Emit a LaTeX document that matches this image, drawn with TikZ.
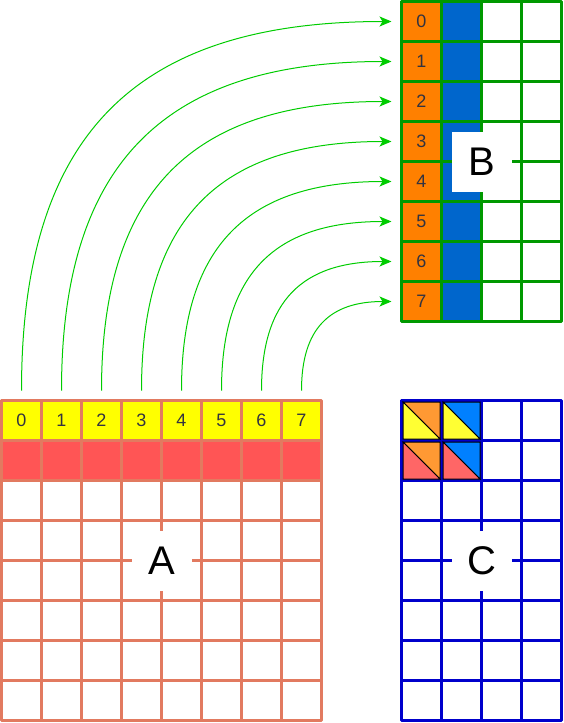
\documentclass[tikz,border=0pt]{standalone}
\usepackage{fontspec}
\setmainfont{Liberation Sans}
\usetikzlibrary{arrows.meta}
\definecolor{lineA}{RGB}{226,122,96}
\definecolor{lineB}{RGB}{0,153,0}
\definecolor{lineC}{RGB}{0,0,204}
\definecolor{yellowA}{RGB}{255,255,0}
\definecolor{redA}{RGB}{255,85,85}
\definecolor{orangeB}{RGB}{255,128,0}
\definecolor{blueB}{RGB}{0,102,204}
\definecolor{orangeC}{RGB}{255,153,51}
\definecolor{yellowC}{RGB}{255,255,51}
\definecolor{blueC}{RGB}{0,128,255}
\definecolor{redC}{RGB}{255,102,102}
\definecolor{arrowG}{RGB}{0,204,0}
\definecolor{numgray}{RGB}{51,51,64}
\tikzset{
  cell/.style={line width=3pt, minimum size=40pt, inner sep=0pt, outer sep=0pt, fill=white,
    text=numgray, font=\fontsize{18}{18}\selectfont},
  cellA/.style={cell, draw=lineA},
  cellB/.style={cell, draw=lineB},
  cellC/.style={cell, draw=lineC},
  labelbox/.style={fill=white, minimum size=60pt, inner sep=0pt, font=\fontsize{40}{40}\selectfont},
  tri/.style={draw=black, line width=1pt, line join=miter},
}
\begin{document}
\begin{tikzpicture}[x=1pt, y=-1pt, line join=round, >={Stealth[length=12pt,width=10pt,inset=3pt]}]
	\useasboundingbox (0,0) rectangle (563,723);
	% matrix A
	\foreach \i in {0,...,7} {
		\node[cellA, fill=yellowA] (a\i) at (21.5+40*\i,420.5) {\i};
		\node[cellA, fill=redA] (ar\i) at (21.5+40*\i,460.5) {};
		\foreach \j in {2,...,7}
			\node[cellA] (A\i\j) at (21.5+40*\i,420.5+40*\j) {};
	}
	\node[labelbox] (A) at (161.5,560.5) {A};
	% matrix B
	\foreach \j in {0,...,7} {
		\node[cellB, fill=orangeB] (b\j) at (421.5,21.5+40*\j) {\j};
		\node[cellB, fill=blueB] (bb\j) at (461.5,21.5+40*\j) {};
		\foreach \i in {2,3}
			\node[cellB] (B\i\j) at (421.5+40*\i,21.5+40*\j) {};
	}
	\node[labelbox] (B) at (481.5,161.5) {B};
	% matrix C
	\foreach \i in {0,...,3} \foreach \j in {0,...,7}
		\node[cellC] (C\i\j) at (421.5+40*\i,420.5+40*\j) {};
	\foreach \i/\up in {0/orangeC,1/blueC} \foreach \j/\lo in {0/yellowC,1/redC} {
		\filldraw[tri, fill=\up] ([shift={(-18.5,-18.5)}]C\i\j.center) -- ([shift={(18.5,-18.5)}]C\i\j.center)
			-- ([shift={(18.5,18.5)}]C\i\j.center) -- cycle;
		\filldraw[tri, fill=\lo] ([shift={(-18.5,-18.5)}]C\i\j.center) -- ([shift={(-18.5,18.5)}]C\i\j.center)
			-- ([shift={(18.5,18.5)}]C\i\j.center) -- cycle;
	}
	\node[labelbox] (C) at (481.5,560.5) {C};
	% rows of A go to columns of B
	\foreach \i in {0,...,7}
		\draw[->, arrowG, line width=1pt] ([yshift=10pt]a\i.north) to[out=90, in=180, looseness=1.25] ([xshift=-10pt]b\i.west);
\end{tikzpicture}
\end{document}
